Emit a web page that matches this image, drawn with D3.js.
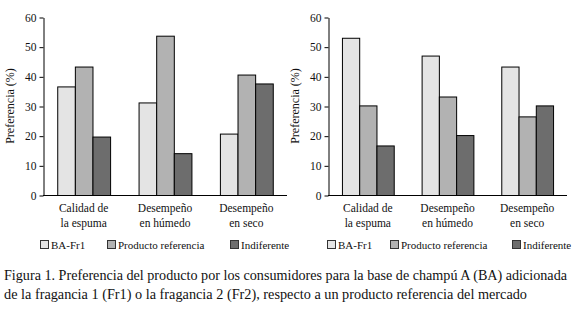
<!DOCTYPE html>
<html>
<head>
<meta charset="utf-8">
<script src="https://cdn.jsdelivr.net/npm/d3@7"></script>
<style>
  body { margin: 0; background: #fff; }
  svg, svg text { font-family: "Liberation Serif", "DejaVu Serif", serif; }
</style>
</head>
<body>
<div id="chart"></div>
<script>
const categories = [["Calidad de", "la espuma"], ["Desempeño", "en húmedo"], ["Desempeño", "en seco"]];
const seriesNames = ["BA-Fr1", "Producto referencia", "Indiferente"];
const seriesColors = ["#e4e4e4", "#b2b2b2", "#6d6d6d"];
const yTicks = [0, 10, 20, 30, 40, 50, 60];

// values per category: [BA-Fr1, Producto referencia, Indiferente]
const leftValues = [[36.6, 43.3, 19.7], [31.2, 53.7, 14.1], [20.7, 40.6, 37.6]];
const rightValues = [[53.0, 30.2, 16.7], [47.0, 33.2, 20.2], [43.3, 26.5, 30.2]];

const captionLines = [
  "Figura 1. Preferencia del producto por los consumidores para la base de champú A (BA) adicionada",
  "de la fragancia 1 (Fr1) o la fragancia 2 (Fr2), respecto a un producto referencia del mercado"
];

const W = 575, H = 316;
const FONT = "Liberation Serif, DejaVu Serif, serif";
const svg = d3.select("#chart").append("svg").attr("width", W).attr("height", H);

const y = d3.scaleLinear().domain([0, 60]).range([195, 17]);

function drawPanel(values, x0, x1, legendX) {
  const g = svg.append("g");
  const x = d3.scaleBand().domain(d3.range(categories.length)).range([x0, x1])
    .paddingInner(0.35).paddingOuter(0.175);
  const xs = d3.scaleBand().domain(d3.range(seriesNames.length)).range([0, x.bandwidth()]);

  g.selectAll("g.cat").data(values).enter().append("g")
    .attr("transform", (d, i) => `translate(${x(i)},0)`)
    .selectAll("rect").data(d => d).enter().append("rect")
    .attr("x", (d, j) => xs(j) + 0.5)
    .attr("y", d => y(d) + 0.5)
    .attr("width", xs.bandwidth())
    .attr("height", d => y(0) - y(d))
    .attr("fill", (d, j) => seriesColors[j])
    .attr("stroke", "#000")
    .attr("stroke-width", 1);

  const yAxis = g.append("g")
    .attr("transform", `translate(${x0 + 0.5},0.5)`)
    .call(d3.axisLeft(y).tickValues(yTicks).tickSize(4).tickPadding(3).tickSizeOuter(0));
  yAxis.attr("font-family", FONT);
  yAxis.selectAll("text").attr("font-size", 11.5).attr("fill", "#111");
  yAxis.select(".domain").attr("stroke", "#000");

  g.append("line")
    .attr("x1", x0).attr("x2", x1)
    .attr("y1", y(0) + 0.5).attr("y2", y(0) + 0.5)
    .attr("stroke", "#000");

  categories.forEach((lines, i) => {
    const t = g.append("text")
      .attr("text-anchor", "middle")
      .attr("font-family", FONT)
      .attr("font-size", 11.5)
      .attr("fill", "#111");
    lines.forEach((ln, k) => {
      t.append("tspan").attr("x", x(i) + x.bandwidth() / 2).attr("y", 212 + k * 14.5).text(ln);
    });
  });

  g.append("text")
    .attr("transform", `translate(${x0 - 29},${y(30)}) rotate(-90)`)
    .attr("text-anchor", "middle")
    .attr("font-family", FONT)
    .attr("font-size", 12)
    .attr("fill", "#111")
    .text("Preferencia (%)");

  legendX.forEach((lx, j) => {
    g.append("rect")
      .attr("x", lx + 0.5).attr("y", 240.5)
      .attr("width", 8).attr("height", 8)
      .attr("fill", seriesColors[j]).attr("stroke", "#333");
    g.append("text")
      .attr("x", lx + 11).attr("y", 248.5)
      .attr("font-family", FONT)
      .attr("font-size", 11)
      .attr("fill", "#111")
      .text(seriesNames[j]);
  });
}

drawPanel(leftValues, 43, 287, [40, 107, 230]);
drawPanel(rightValues, 328, 567, [327, 390, 512]);

captionLines.forEach((ln, k) => {
  svg.append("text")
    .attr("x", 4).attr("y", 280 + k * 19)
    .attr("font-family", FONT)
    .attr("font-size", 14)
    .attr("fill", "#111")
    .attr("textLength", k === 0 ? 563 : 523)
    .attr("lengthAdjust", "spacingAndGlyphs")
    .text(ln);
});
</script>
</body>
</html>
